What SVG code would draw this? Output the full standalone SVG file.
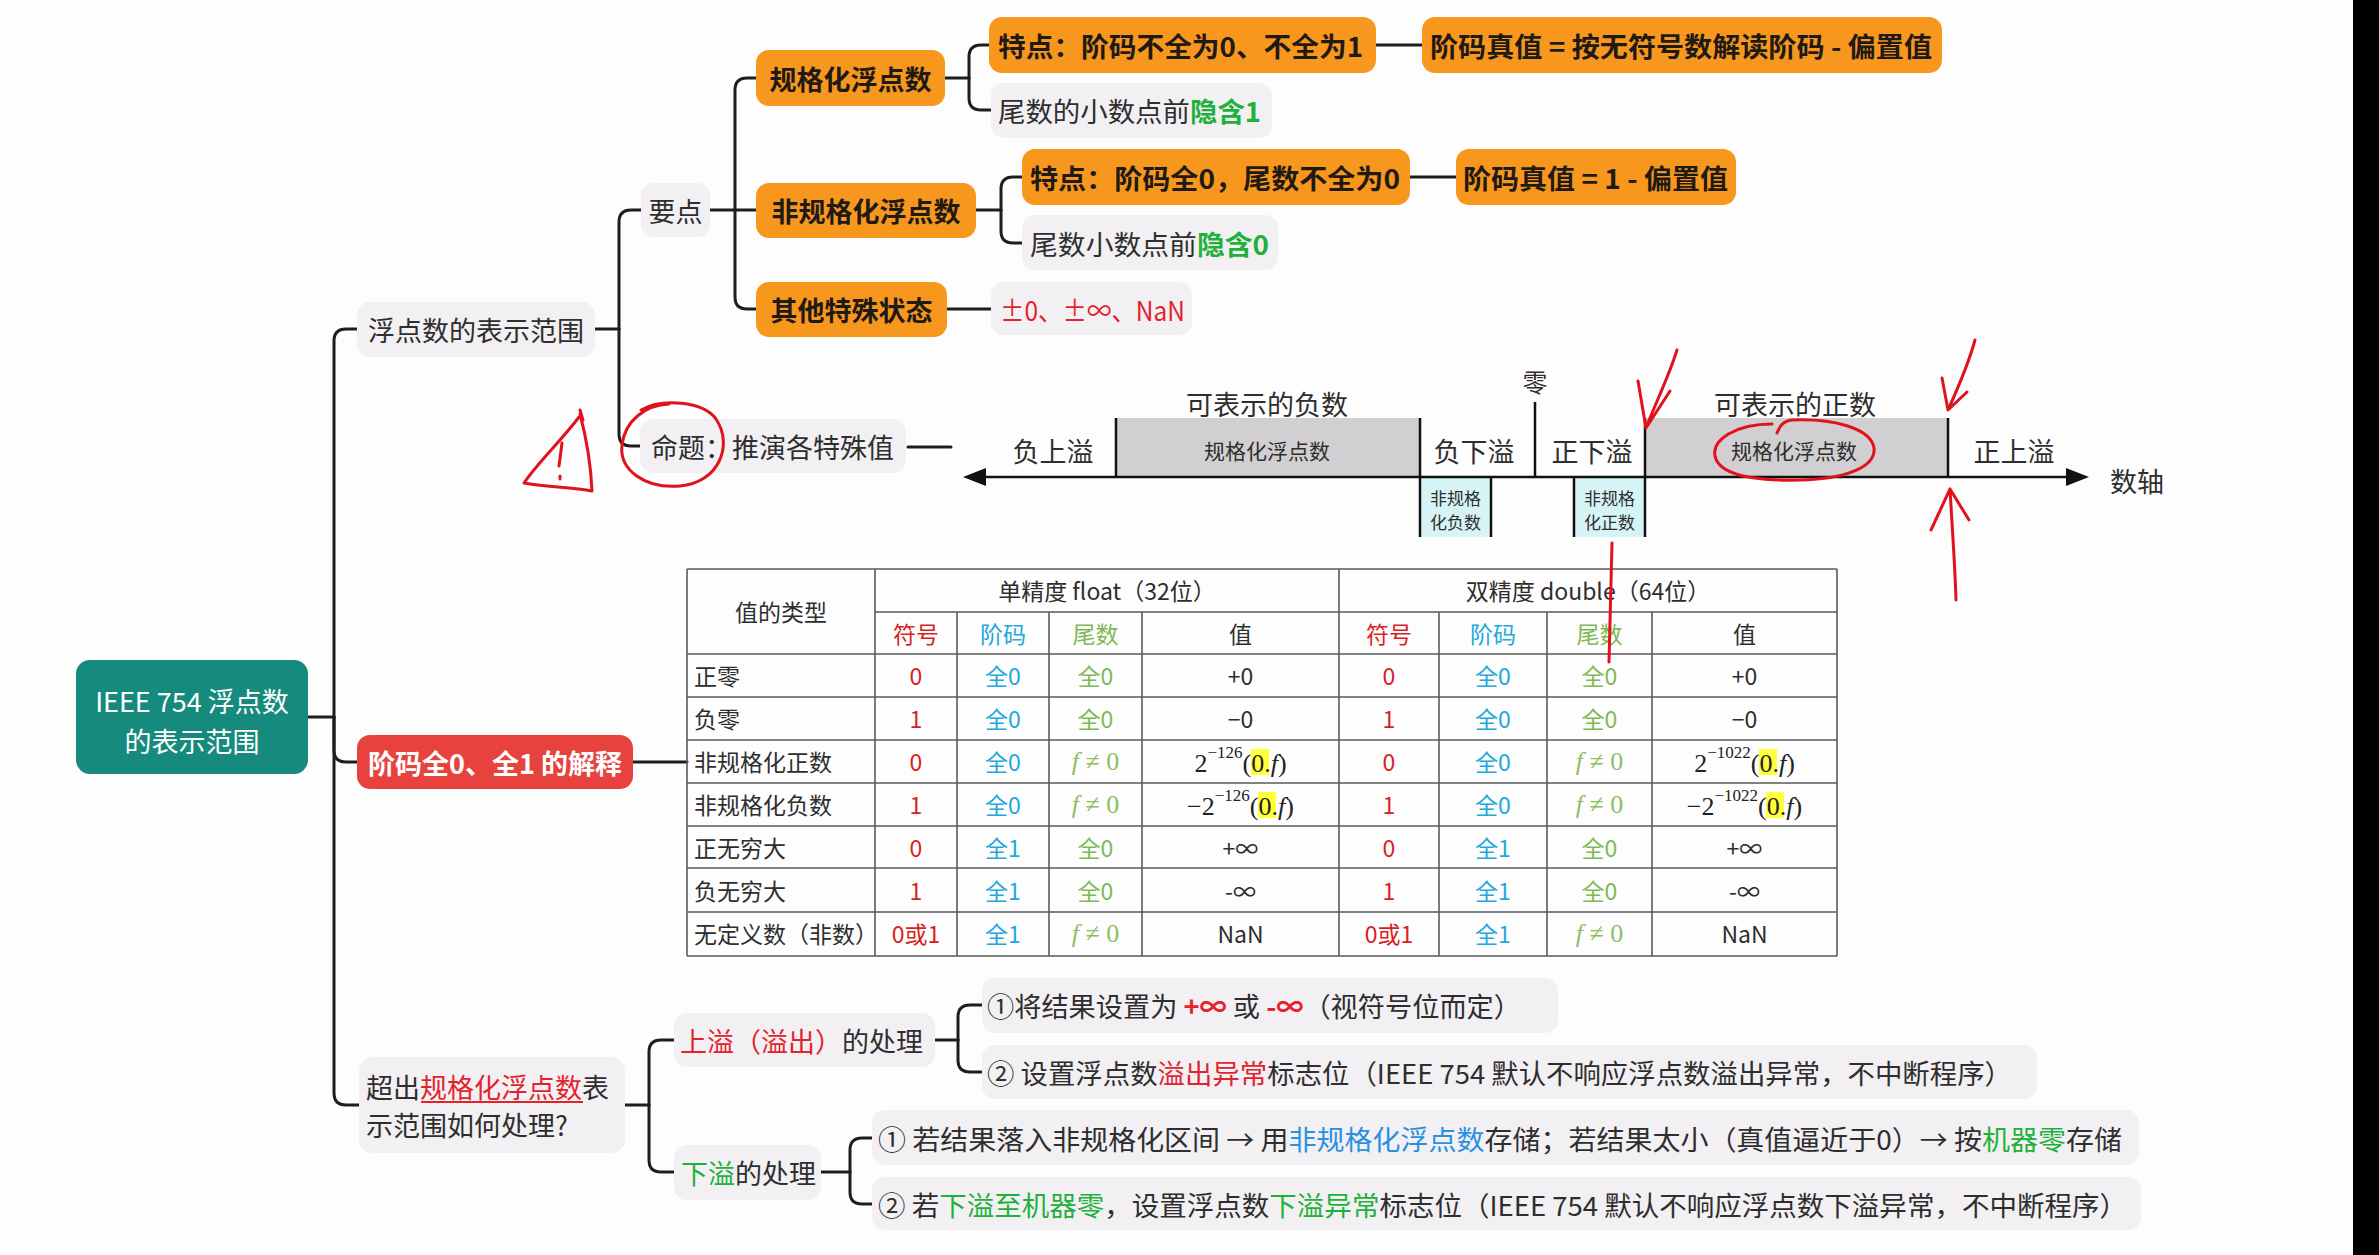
<svg xmlns="http://www.w3.org/2000/svg" width="2379" height="1255" viewBox="0 0 2379 1255">
<defs>
<style>
.ln{fill:none;stroke:#1e1e1e;stroke-width:3;stroke-linecap:round;stroke-linejoin:round}
.or{fill:#f8971d}
.gy{fill:#f2f0f3}
.t{font-family:"Noto Sans CJK SC","Liberation Sans",sans-serif;font-size:27px;fill:#2e2e2e;dominant-baseline:central}
.b{font-weight:bold;fill:#1f1a14}
.c{text-anchor:middle}
.red{fill:#e3232c}
.grn{fill:#22b03c}
.blu{fill:#2a8fe0}
.wh{fill:#ffffff}
.tb{font-size:23px}
.s21{font-size:21px}
.s17{font-size:17px}
.s25{font-size:25px}
.tl{stroke:#5a5a5a;stroke-width:1.6;fill:none}
.ax{stroke:#111;stroke-width:2.5;fill:none}
.tr{fill:#d81e1e}
.tc{fill:#22a8dc}
.tg{fill:#7dba55}
.m{font-family:"Liberation Serif","DejaVu Serif",serif;font-size:26px;fill:#222;dominant-baseline:central}
.fm{font-family:"Liberation Serif","DejaVu Serif",serif;font-size:26px;fill:#8cbf62;dominant-baseline:central}
.hl{fill:#ffff3a}
.hand{fill:none;stroke:#e0121c;stroke-width:3;stroke-linecap:round;stroke-linejoin:round}
</style>
</defs>
<rect x="0" y="0" width="2379" height="1255" fill="#fdfdfd"/>
<rect x="2353" y="0" width="26" height="1255" fill="#000000"/>

<g id="connectors">
<path class="ln" d="M308,717 H334"/>
<path class="ln" d="M334,717 V341 Q334,329 346,329 H357"/>
<path class="ln" d="M334,717 V750 Q334,762 346,762 H357"/>
<path class="ln" d="M334,717 V1093 Q334,1105 346,1105 H359"/>
<path class="ln" d="M595,329 H619"/>
<path class="ln" d="M619,329 V222 Q619,210 631,210 H641"/>
<path class="ln" d="M619,329 V434 Q619,446 631,446 H640"/>
<path class="ln" d="M710,210 H756"/>
<path class="ln" d="M735,210 V90 Q735,78 747,78 H756"/>
<path class="ln" d="M735,210 V297 Q735,309 747,309 H756"/>
<path class="ln" d="M945,78 H969"/>
<path class="ln" d="M969,78 V57 Q969,45 981,45 H989"/>
<path class="ln" d="M969,78 V98 Q969,110 981,110 H991"/>
<path class="ln" d="M1376,45 H1422"/>
<path class="ln" d="M976,210 H1001"/>
<path class="ln" d="M1001,210 V189 Q1001,177 1013,177 H1022"/>
<path class="ln" d="M1001,210 V231 Q1001,243 1013,243 H1022"/>
<path class="ln" d="M1410,177 H1456"/>
<path class="ln" d="M947,309 H991"/>
<path class="ln" d="M908,447 H951"/>
<path class="ln" d="M633,762 H687"/>
<path class="ln" d="M625,1105 H649"/>
<path class="ln" d="M649,1105 V1052 Q649,1040 661,1040 H674"/>
<path class="ln" d="M649,1105 V1160 Q649,1172 661,1172 H674"/>
<path class="ln" d="M935,1040 H958"/>
<path class="ln" d="M958,1040 V1017 Q958,1005 970,1005 H982"/>
<path class="ln" d="M958,1040 V1060 Q958,1072 970,1072 H982"/>
<path class="ln" d="M821,1172 H850"/>
<path class="ln" d="M850,1172 V1150 Q850,1138 862,1138 H872"/>
<path class="ln" d="M850,1172 V1192 Q850,1204 862,1204 H872"/>
</g>

<g id="root">
<rect x="76" y="660" width="232" height="114" rx="14" fill="#168b7d"/>
<text class="t c wh" x="192" y="700">IEEE 754 浮点数</text>
<text class="t c wh" x="192" y="740">的表示范围</text>
</g>

<g id="range">
<rect class="gy" x="357" y="302" width="238" height="55" rx="13"/>
<text class="t c" x="476" y="329">浮点数的表示范围</text>
</g>
<g id="keypoints">
<rect class="gy" x="641" y="183" width="69" height="54" rx="12"/>
<text class="t c" x="675.5" y="210">要点</text>
</g>
<g id="normalized">
<rect class="or" x="756" y="50" width="189" height="56" rx="13"/>
<text class="t c b" x="850.5" y="78">规格化浮点数</text>
</g>
<g id="denormalized">
<rect class="or" x="756" y="183" width="220" height="55" rx="13"/>
<text class="t c b" x="866" y="210">非规格化浮点数</text>
</g>
<g id="special">
<rect class="or" x="756" y="282" width="191" height="55" rx="13"/>
<text class="t c b" x="851.5" y="309">其他特殊状态</text>
</g>
<g id="feature1">
<rect class="or" x="989" y="17" width="387" height="56" rx="13"/>
<text class="t b" x="998" y="45" textLength="365" lengthAdjust="spacingAndGlyphs">特点：阶码不全为0、不全为1</text>
</g>
<g id="exp1">
<rect class="or" x="1422" y="17" width="520" height="56" rx="13"/>
<text class="t b" x="1430" y="45" textLength="502" lengthAdjust="spacingAndGlyphs">阶码真值 = 按无符号数解读阶码 - 偏置值</text>
</g>
<g id="hidden1">
<rect class="gy" x="991" y="83" width="281" height="55" rx="13"/>
<text class="t" x="998" y="110" textLength="263" lengthAdjust="spacingAndGlyphs">尾数的小数点前<tspan class="grn" font-weight="bold">隐含1</tspan></text>
</g>
<g id="feature2">
<rect class="or" x="1022" y="149" width="388" height="56" rx="13"/>
<text class="t b" x="1030" y="177" textLength="370" lengthAdjust="spacingAndGlyphs">特点：阶码全0，尾数不全为0</text>
</g>
<g id="exp2">
<rect class="or" x="1456" y="149" width="280" height="56" rx="13"/>
<text class="t b" x="1463" y="177" textLength="265" lengthAdjust="spacingAndGlyphs">阶码真值 = 1 - 偏置值</text>
</g>
<g id="hidden0">
<rect class="gy" x="1022" y="215" width="256" height="55" rx="13"/>
<text class="t" x="1030" y="243" textLength="239" lengthAdjust="spacingAndGlyphs">尾数小数点前<tspan class="grn" font-weight="bold">隐含0</tspan></text>
</g>
<g id="specialvals">
<rect class="gy" x="991" y="282" width="201" height="53" rx="13"/>
<text class="t red" x="1000" y="309" textLength="185" lengthAdjust="spacingAndGlyphs">±0、±∞、NaN</text>
</g>
<g id="proposition">
<rect class="gy" x="640" y="419" width="266" height="54" rx="13"/>
<text class="t" x="651" y="446">命题：推演各特殊值</text>
</g>

<g id="numberline">
<rect x="1116" y="418" width="304" height="59" fill="#d1cfd1"/>
<rect x="1645" y="418" width="303" height="59" fill="#d1cfd1"/>
<rect x="1420" y="477" width="71" height="60" fill="#d6f4f6"/>
<rect x="1574" y="477" width="71" height="60" fill="#d6f4f6"/>
<line class="ax" x1="978" y1="477" x2="2074" y2="477"/>
<polygon points="963,477 986,468 986,486" fill="#111"/>
<polygon points="2089,477 2066,468 2066,486" fill="#111"/>
<line class="ax" x1="1116" y1="418" x2="1116" y2="477"/>
<line class="ax" x1="1420" y1="418" x2="1420" y2="537"/>
<line class="ax" x1="1491" y1="477" x2="1491" y2="537"/>
<line class="ax" x1="1535" y1="402" x2="1535" y2="477"/>
<line class="ax" x1="1574" y1="477" x2="1574" y2="537"/>
<line class="ax" x1="1645" y1="418" x2="1645" y2="537"/>
<line class="ax" x1="1948" y1="418" x2="1948" y2="477"/>
<text class="t c" x="1053" y="450">负上溢</text>
<text class="t c" x="1267" y="403">可表示的负数</text>
<text class="t c s21" x="1267" y="450">规格化浮点数</text>
<text class="t c" x="1474" y="450">负下溢</text>
<text class="t c s25" x="1535" y="381">零</text>
<text class="t c" x="1592" y="450">正下溢</text>
<text class="t c" x="1795" y="403">可表示的正数</text>
<text class="t c s21" x="1794" y="450">规格化浮点数</text>
<text class="t c" x="2014" y="450">正上溢</text>
<text class="t c" x="2137" y="480">数轴</text>
<text class="t c s17" x="1455.5" y="497">非规格</text>
<text class="t c s17" x="1455.5" y="521">化负数</text>
<text class="t c s17" x="1609.5" y="497">非规格</text>
<text class="t c s17" x="1609.5" y="521">化正数</text>
</g>

<g id="exp-explain">
<rect x="357" y="735" width="276" height="54" rx="13" fill="#e8423f"/>
<text class="t c b wh" x="495" y="762" style="fill:#ffffff">阶码全0、全1 的解释</text>
</g>

<g id="table">
<rect x="1251" y="749" width="18" height="26" class="hl"/>
<rect x="1258" y="792" width="18" height="26" class="hl"/>
<rect x="1759" y="749" width="18" height="26" class="hl"/>
<rect x="1766" y="792" width="18" height="26" class="hl"/>
<path class="tl" d="M687,569 H1837 M875,612 H1837 M687,654 H1837 M687,697 H1837 M687,740 H1837 M687,783 H1837 M687,826 H1837 M687,868 H1837 M687,912 H1837 M687,956 H1837"/>
<path class="tl" d="M687,569 V956 M875,569 V956 M1339,569 V956 M1837,569 V956 M957,612 V956 M1049,612 V956 M1142,612 V956 M1439,612 V956 M1547,612 V956 M1652,612 V956"/>
<g class="t tb">
<text class="c" x="781" y="611">值的类型</text>
<text class="c" x="1107" y="590">单精度 float（32位）</text>
<text class="c" x="1588" y="590">双精度 double（64位）</text>
<text class="c tr" x="916" y="633">符号</text>
<text class="c tc" x="1003" y="633">阶码</text>
<text class="c tg" x="1095.5" y="633">尾数</text>
<text class="c" x="1240.5" y="633">值</text>
<text class="c tr" x="1389" y="633">符号</text>
<text class="c tc" x="1493" y="633">阶码</text>
<text class="c tg" x="1599.5" y="633">尾数</text>
<text class="c" x="1744.5" y="633">值</text>

<text x="694" y="675">正零</text>
<text x="694" y="718">负零</text>
<text x="694" y="761">非规格化正数</text>
<text x="694" y="804">非规格化负数</text>
<text x="694" y="847">正无穷大</text>
<text x="694" y="890">负无穷大</text>
<text x="694" y="933">无定义数（非数）</text>

<text class="c tr" x="916" y="675">0</text>
<text class="c tr" x="916" y="718">1</text>
<text class="c tr" x="916" y="761">0</text>
<text class="c tr" x="916" y="804">1</text>
<text class="c tr" x="916" y="847">0</text>
<text class="c tr" x="916" y="890">1</text>
<text class="c tr" x="916" y="933">0或1</text>
<text class="c tc" x="1003" y="675">全0</text>
<text class="c tc" x="1003" y="718">全0</text>
<text class="c tc" x="1003" y="761">全0</text>
<text class="c tc" x="1003" y="804">全0</text>
<text class="c tc" x="1003" y="847">全1</text>
<text class="c tc" x="1003" y="890">全1</text>
<text class="c tc" x="1003" y="933">全1</text>
<text class="c tg" x="1095.5" y="675">全0</text>
<text class="c tg" x="1095.5" y="718">全0</text>
<text class="c tg" x="1095.5" y="847">全0</text>
<text class="c tg" x="1095.5" y="890">全0</text>
<text class="c" x="1240.5" y="675">+0</text>
<text class="c" x="1240.5" y="718">−0</text>
<text class="c" x="1240.5" y="847">+∞</text>
<text class="c" x="1240.5" y="890">-∞</text>
<text class="c" x="1240.5" y="933">NaN</text>

<text class="c tr" x="1389" y="675">0</text>
<text class="c tr" x="1389" y="718">1</text>
<text class="c tr" x="1389" y="761">0</text>
<text class="c tr" x="1389" y="804">1</text>
<text class="c tr" x="1389" y="847">0</text>
<text class="c tr" x="1389" y="890">1</text>
<text class="c tr" x="1389" y="933">0或1</text>
<text class="c tc" x="1493" y="675">全0</text>
<text class="c tc" x="1493" y="718">全0</text>
<text class="c tc" x="1493" y="761">全0</text>
<text class="c tc" x="1493" y="804">全0</text>
<text class="c tc" x="1493" y="847">全1</text>
<text class="c tc" x="1493" y="890">全1</text>
<text class="c tc" x="1493" y="933">全1</text>
<text class="c tg" x="1599.5" y="675">全0</text>
<text class="c tg" x="1599.5" y="718">全0</text>
<text class="c tg" x="1599.5" y="847">全0</text>
<text class="c tg" x="1599.5" y="890">全0</text>
<text class="c" x="1744.5" y="675">+0</text>
<text class="c" x="1744.5" y="718">−0</text>
<text class="c" x="1744.5" y="847">+∞</text>
<text class="c" x="1744.5" y="890">-∞</text>
<text class="c" x="1744.5" y="933">NaN</text>
</g>
<text class="fm c" x="1095.5" y="761"><tspan font-style="italic">f</tspan> ≠ 0</text>
<text class="fm c" x="1095.5" y="804"><tspan font-style="italic">f</tspan> ≠ 0</text>
<text class="fm c" x="1095.5" y="933"><tspan font-style="italic">f</tspan> ≠ 0</text>
<text class="fm c" x="1599.5" y="761"><tspan font-style="italic">f</tspan> ≠ 0</text>
<text class="fm c" x="1599.5" y="804"><tspan font-style="italic">f</tspan> ≠ 0</text>
<text class="fm c" x="1599.5" y="933"><tspan font-style="italic">f</tspan> ≠ 0</text>
<text class="m c" x="1240.5" y="763">2<tspan font-size="17" dy="-11">−126</tspan><tspan dy="11">(0.</tspan><tspan font-style="italic">f</tspan>)</text>
<text class="m c" x="1240.5" y="806">−2<tspan font-size="17" dy="-11">−126</tspan><tspan dy="11">(0.</tspan><tspan font-style="italic">f</tspan>)</text>
<text class="m c" x="1744.5" y="763">2<tspan font-size="17" dy="-11">−1022</tspan><tspan dy="11">(0.</tspan><tspan font-style="italic">f</tspan>)</text>
<text class="m c" x="1744.5" y="806">−2<tspan font-size="17" dy="-11">−1022</tspan><tspan dy="11">(0.</tspan><tspan font-style="italic">f</tspan>)</text>
</g>

<g id="beyond">
<rect class="gy" x="359" y="1057" width="266" height="96" rx="14"/>
<text class="t" x="366" y="1086">超出<tspan class="red">规格化浮点数</tspan>表</text>
<line x1="421" y1="1102" x2="583" y2="1102" stroke="#e3232c" stroke-width="2"/>
<text class="t" x="366" y="1124">示范围如何处理?</text>
</g>
<g id="overflow">
<rect class="gy" x="674" y="1013" width="261" height="54" rx="13"/>
<text class="t" x="680" y="1040"><tspan class="red">上溢（溢出）</tspan>的处理</text>
</g>
<g id="underflow">
<rect class="gy" x="674" y="1145" width="147" height="55" rx="13"/>
<text class="t" x="681" y="1172"><tspan class="grn">下溢</tspan>的处理</text>
</g>
<g id="of1">
<rect class="gy" x="982" y="978" width="576" height="55" rx="13"/>
<text class="t" x="987" y="1005" textLength="534" lengthAdjust="spacingAndGlyphs">①将结果设置为 <tspan class="red" font-weight="bold">+∞</tspan> 或 <tspan class="red" font-weight="bold">-∞</tspan>（视符号位而定）</text>
</g>
<g id="of2">
<rect class="gy" x="982" y="1045" width="1055" height="54" rx="13"/>
<text class="t" x="987" y="1072" textLength="1025" lengthAdjust="spacingAndGlyphs">② 设置浮点数<tspan class="red">溢出异常</tspan>标志位（IEEE 754 默认不响应浮点数溢出异常，不中断程序）</text>
</g>
<g id="uf1">
<rect class="gy" x="872" y="1110" width="1267" height="55" rx="13"/>
<text class="t" x="878" y="1138" textLength="1244" lengthAdjust="spacingAndGlyphs">① 若结果落入非规格化区间 → 用<tspan class="blu">非规格化浮点数</tspan>存储；若结果太小（真值逼近于0）→ 按<tspan class="grn">机器零</tspan>存储</text>
</g>
<g id="uf2">
<rect class="gy" x="872" y="1177" width="1269" height="53" rx="13"/>
<text class="t" x="878" y="1204" textLength="1249" lengthAdjust="spacingAndGlyphs">② 若<tspan class="grn">下溢至机器零</tspan>，设置浮点数<tspan class="grn">下溢异常</tspan>标志位（IEEE 754 默认不响应浮点数下溢异常，不中断程序）</text>
</g>

<g id="annotations">
<path class="hand" d="M579,417 C562,440 538,462 524,483 C545,487 572,487 592,491 C591,468 588,444 580,414 M580,410 L583,420"/>
<path class="hand" d="M562,443 L559,466 M560,476 L560,479"/>
<path class="hand" d="M641,410 C662,398 703,401 716,419 C734,446 718,483 680,486 C645,489 619,470 622,445 C625,420 646,405 669,404"/>
<path class="hand" d="M1772,424 C1735,424 1712,440 1715,456 C1719,476 1758,481 1800,480 C1848,479 1876,466 1874,448 C1871,428 1832,418 1792,420 C1782,421 1779,428 1777,433"/>
<path class="hand" d="M1677,350 C1669,376 1656,402 1646,428 M1638,381 L1646,428 L1670,391"/>
<path class="hand" d="M1975,340 C1968,366 1957,390 1948,410 M1942,378 L1948,410 L1967,392"/>
<path class="hand" d="M1956,600 C1955,565 1952,525 1950,489 M1931,530 L1950,489 L1969,520"/>
<path class="hand" d="M1612,543 C1611,580 1610,620 1609,662"/>
</g>
</svg>
